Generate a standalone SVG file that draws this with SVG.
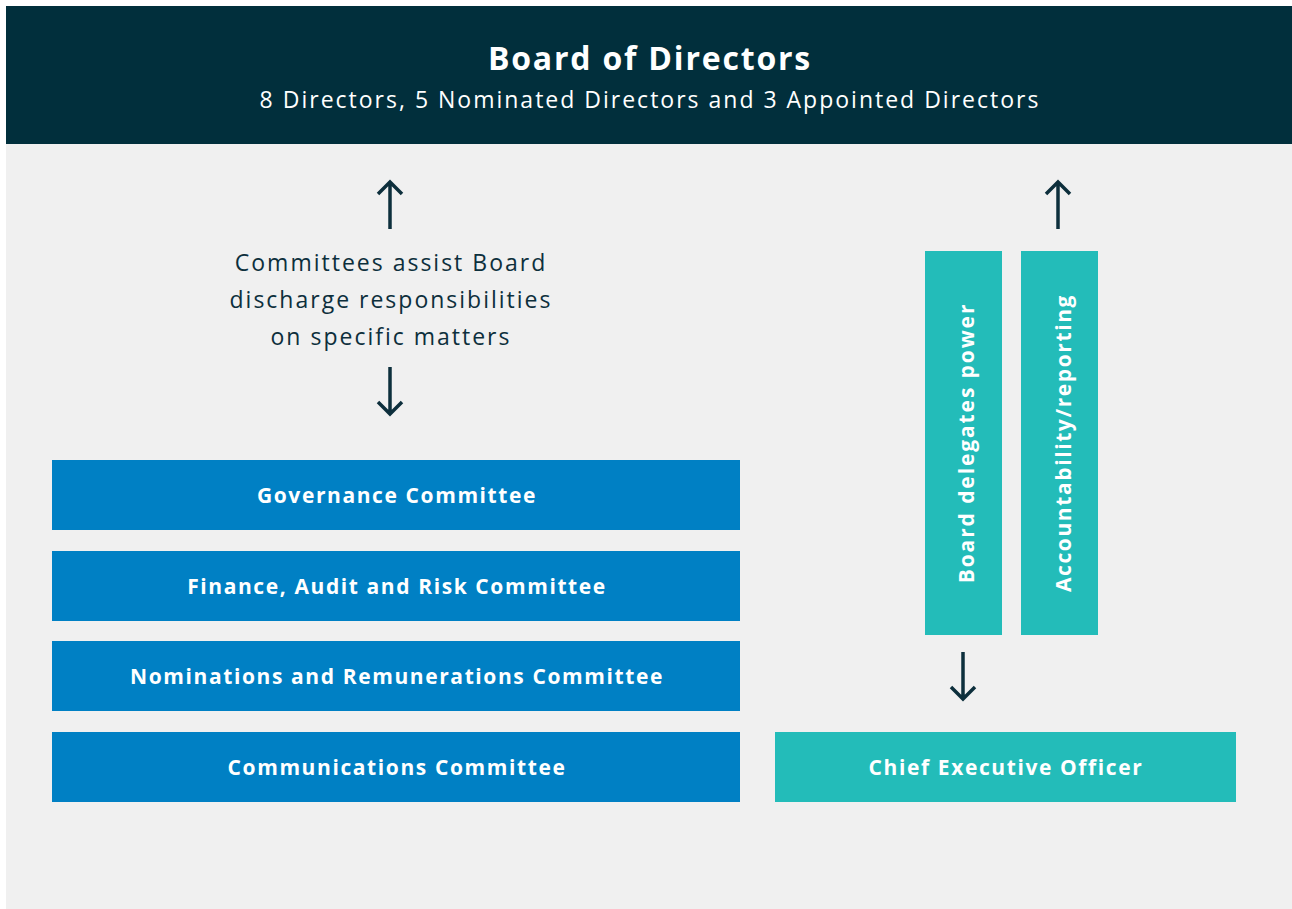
<svg xmlns="http://www.w3.org/2000/svg" width="1292" height="909" viewBox="0 0 1292 909">
<style>
.t{font-family:"Open Sans","Noto Sans",sans-serif;}
.title{font-size:32px;font-weight:700;fill:#fff;letter-spacing:1.8px}
.sub{font-size:23px;fill:#fff;letter-spacing:2px}
.mid{font-size:23px;fill:#0d2f3c;letter-spacing:2px}
.lbl{font-size:21px;font-weight:700;fill:#fff;letter-spacing:1.6px}
.blue{fill:#0080c4}
.teal{fill:#23bcb9}
.arr{stroke:#0d2f3c;stroke-width:3.5;fill:none}
</style>
<rect width="1292" height="909" fill="#fff"/>
<rect x="6" y="6" width="1286" height="903" fill="#f0f0f0"/>
<g id="board">
<rect x="6" y="6" width="1286" height="138" fill="#012f3c"/>
<text class="t title" x="650" y="70" text-anchor="middle">Board of Directors</text>
<text class="t sub" x="650" y="108" text-anchor="middle">8 Directors, 5 Nominated Directors and 3 Appointed Directors</text>
</g>
<g id="committee-note">
<text class="t mid" x="391" y="271" text-anchor="middle">Committees assist Board</text>
<text class="t mid" x="391" y="308" text-anchor="middle">discharge responsibilities</text>
<text class="t mid" x="391" y="345" text-anchor="middle">on specific matters</text>
</g>
<g id="governance"><rect class="blue" x="52" y="460" width="688" height="70"/><text class="t lbl" x="397" y="503" text-anchor="middle">Governance Committee</text></g>
<g id="finance"><rect class="blue" x="52" y="551" width="688" height="70"/><text class="t lbl" x="397" y="594" text-anchor="middle">Finance, Audit and Risk Committee</text></g>
<g id="nominations"><rect class="blue" x="52" y="641" width="688" height="70"/><text class="t lbl" x="397" y="684" text-anchor="middle">Nominations and Remunerations Committee</text></g>
<g id="communications"><rect class="blue" x="52" y="732" width="688" height="70"/><text class="t lbl" x="397" y="775" text-anchor="middle">Communications Committee</text></g>
<g id="delegates"><rect class="teal" x="925" y="251" width="77" height="384"/><text class="t lbl" style="letter-spacing:1.9px" transform="translate(974,443) rotate(-90)" text-anchor="middle">Board delegates power</text></g>
<g id="accountability"><rect class="teal" x="1021" y="251" width="77" height="384"/><text class="t lbl" transform="translate(1071,443) rotate(-90)" text-anchor="middle">Accountability/reporting</text></g>
<g id="ceo"><rect class="teal" x="775" y="732" width="461" height="70"/><text class="t lbl" x="1006" y="775" text-anchor="middle">Chief Executive Officer</text></g>
<g id="connectors">
<path class="arr" d="M390 229V182M378 194L390 182L402 194"/>
<path class="arr" d="M390 367V414M378 402L390 414L402 402"/>
<path class="arr" d="M1058 229V182M1046 194L1058 182L1070 194"/>
<path class="arr" d="M963 652V699M951 687L963 699L975 687"/>
</g>
</svg>
